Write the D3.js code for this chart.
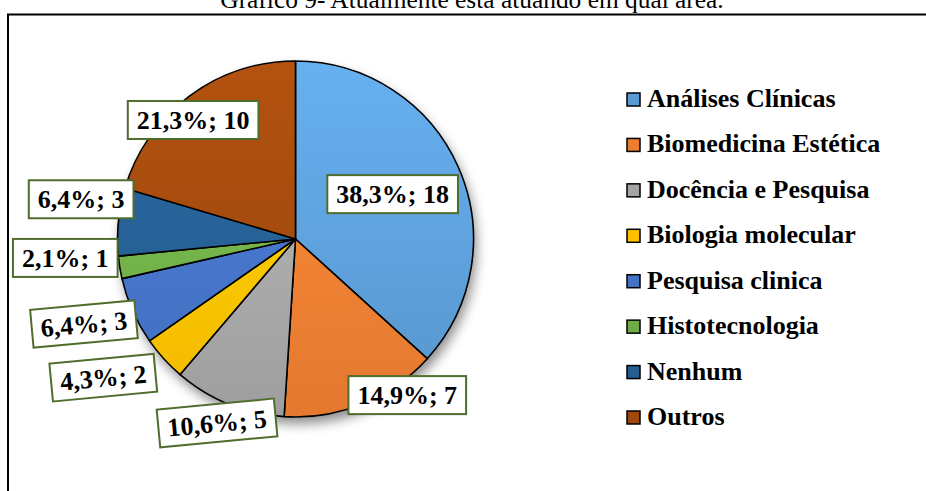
<!DOCTYPE html>
<html>
<head>
<meta charset="utf-8">
<script src="https://cdn.jsdelivr.net/npm/d3@7"></script>
<style>
  body { margin: 0; background: #fff; }
  svg { display: block; font-family: "Liberation Serif", "Times New Roman", serif; }
</style>
</head>
<body>
<svg id="chart" width="926" height="491"></svg>
<script>
// data
var categories = ['Análises Clínicas', 'Biomedicina Estética', 'Docência e Pesquisa', 'Biologia molecular',
  'Pesquisa clinica', 'Histotecnologia', 'Nenhum', 'Outros'];
var counts = [18, 7, 5, 2, 3, 1, 3, 10];
var percentLabels = ['38,3%', '14,9%', '10,6%', '4,3%', '6,4%', '2,1%', '6,4%', '21,3%'];
var colors = ['#5b9bd5', '#ed7d31', '#a5a5a5', '#ffc000', '#4472c4', '#70ad47', '#255e91', '#9e480e'];

// where excel put the data labels: angle (deg, clockwise from top), distance from centre, tilt
var labelAngle = [65.2, 144.4, 203.1, 234.2, 248.1, 265.3, 280.5, 319.3];
var labelDist = [107, 192, 200, 237, 228, 231, 218, 157];
var labelTilt = [0, 0, -5.4, -5.4, -5.2, 0, 0, 0];

var width = 926, height = 491;
var cx = 295.5, cy = 239, radius = 178;

var svg = d3.select('#chart');
var defs = svg.append('defs');

// soft shadow under the pie
var shadow = defs.append('filter').attr('id', 'shadow')
  .attr('x', '-20%').attr('y', '-20%').attr('width', '140%').attr('height', '140%');
shadow.append('feDropShadow').attr('dx', 3).attr('dy', 7).attr('stdDeviation', 6)
  .attr('flood-color', '#000').attr('flood-opacity', 0.45);

defs.append('clipPath').attr('id', 'plotclip').append('rect')
  .attr('x', 9).attr('y', 15).attr('width', width).attr('height', height);

// vertical gradients, lighter at the top like the excel style
colors.forEach(function (c, i) {
  var g = defs.append('linearGradient').attr('id', 'grad' + i)
    .attr('gradientUnits', 'userSpaceOnUse')
    .attr('x1', 0).attr('y1', -radius).attr('x2', 0).attr('y2', radius);
  g.append('stop').attr('offset', '0%').attr('stop-color', d3.color(c).brighter(0.35));
  g.append('stop').attr('offset', '100%').attr('stop-color', d3.color(c).darker(0.12));
});

// title (top is cut off in the original)
svg.append('text')
  .attr('x', 472).attr('y', 8)
  .attr('text-anchor', 'middle')
  .attr('font-size', 25.4)
  .text('Gráfico 9- Atualmente está atuando em qual área.');

// chart frame, runs off the right and bottom edges
svg.append('rect')
  .attr('x', 8).attr('y', 14.5).attr('width', width).attr('height', height)
  .attr('fill', 'none').attr('stroke', '#000').attr('stroke-width', 2);

var data = categories.map(function (c, i) {
  return { name: c, value: counts[i], pct: percentLabels[i], color: colors[i], i: i };
});

var pie = d3.pie().sort(null).value(function (d) { return d.value; });
var arc = d3.arc().innerRadius(0).outerRadius(radius);

var pieG = svg.append('g').attr('transform', 'translate(' + cx + ',' + cy + ')');

pieG.append('circle').attr('r', radius).attr('fill', '#fff').attr('filter', 'url(#shadow)');

pieG.selectAll('path.slice')
  .data(pie(data))
  .enter().append('path')
  .attr('class', 'slice')
  .attr('d', arc)
  .attr('fill', function (d) { return 'url(#grad' + d.data.i + ')'; })
  .attr('stroke', '#000')
  .attr('stroke-width', 1.6)
  .attr('stroke-linejoin', 'round');

// data labels
var labels = svg.append('g').attr('clip-path', 'url(#plotclip)')
  .selectAll('g.label')
  .data(data)
  .enter().append('g')
  .attr('class', 'label')
  .attr('transform', function (d, i) {
    var a = labelAngle[i] * Math.PI / 180;
    var x = cx + labelDist[i] * Math.sin(a);
    var y = cy - labelDist[i] * Math.cos(a);
    return 'translate(' + x + ',' + y + ') rotate(' + labelTilt[i] + ')';
  });

var boxes = labels.append('rect');
var texts = labels.append('text')
  .attr('text-anchor', 'middle')
  .attr('y', 9)
  .attr('font-size', 26)
  .attr('font-weight', 'bold')
  .text(function (d) { return d.pct + '; ' + d.value; });

texts.each(function (d) {
  var w = this.getComputedTextLength() + 18;
  d3.select(this.previousSibling)
    .attr('x', -w / 2).attr('y', -19)
    .attr('width', w).attr('height', 38)
    .attr('fill', '#fff')
    .attr('stroke', '#4f6d2c')
    .attr('stroke-width', 2);
});

// legend
var legendY = d3.scalePoint().domain(categories).range([99.5, 417.5]);
var legend = svg.append('g').selectAll('g.item')
  .data(data)
  .enter().append('g')
  .attr('class', 'item')
  .attr('transform', function (d) { return 'translate(627,' + legendY(d.name) + ')'; });

legend.append('rect')
  .attr('x', 0).attr('y', -6.5).attr('width', 13).attr('height', 13)
  .attr('fill', function (d) { return d.color; })
  .attr('stroke', '#000').attr('stroke-width', 1.5);

legend.append('text')
  .attr('x', 20).attr('y', 7.5)
  .attr('font-size', 26)
  .attr('font-weight', 'bold')
  .text(function (d) { return d.name; });
</script>
</body>
</html>
